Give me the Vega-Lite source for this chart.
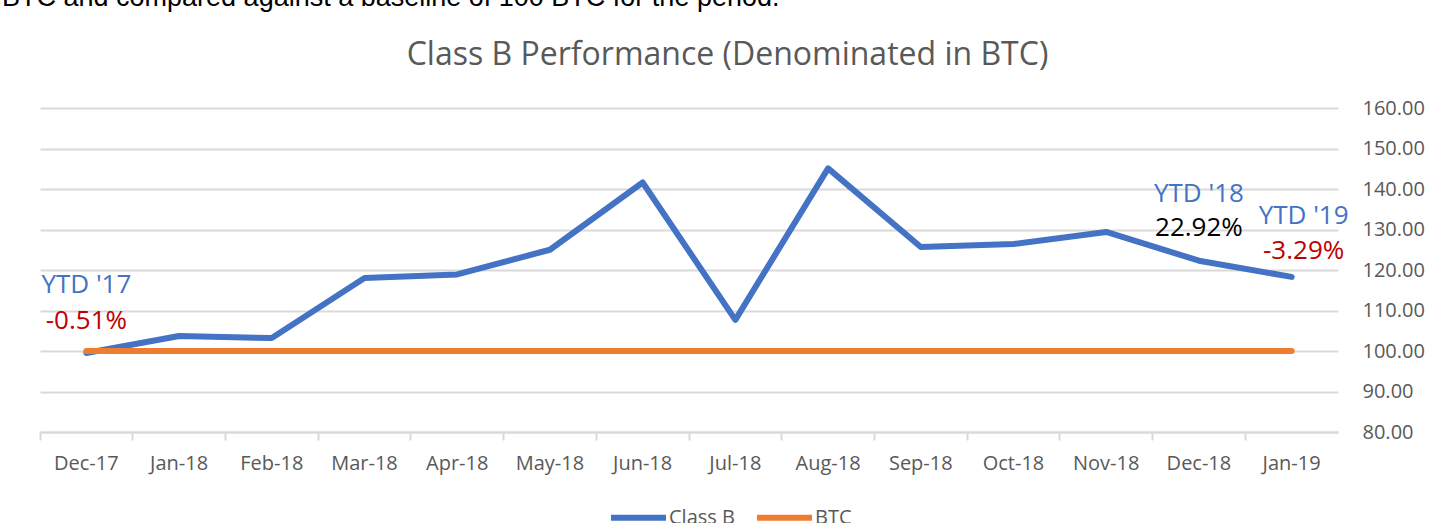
{
  "$schema": "https://vega.github.io/schema/vega-lite/v6.json",
  "width": 1298,
  "height": 324,
  "autosize": {"type": "none"},
  "padding": {"left": 40, "top": 108, "right": 98, "bottom": 91},
  "background": "white",
  "title": {
    "text": "BTC and compared against a baseline of 100 BTC for the period.",
    "font": "Liberation Sans",
    "fontSize": 27,
    "fontWeight": "normal",
    "color": "#000000",
    "anchor": "start",
    "frame": "group",
    "baseline": "alphabetic",
    "dx": -38,
    "dy": 21,
    "offset": 26
  },
  "datasets": {
    "perf": [
      {"month": "Dec-17", "series": "Class B", "value": 99.49},
      {"month": "Jan-18", "series": "Class B", "value": 103.7},
      {"month": "Feb-18", "series": "Class B", "value": 103.2},
      {"month": "Mar-18", "series": "Class B", "value": 118.0},
      {"month": "Apr-18", "series": "Class B", "value": 118.9},
      {"month": "May-18", "series": "Class B", "value": 125.0},
      {"month": "Jun-18", "series": "Class B", "value": 141.6},
      {"month": "Jul-18", "series": "Class B", "value": 107.7},
      {"month": "Aug-18", "series": "Class B", "value": 145.1},
      {"month": "Sep-18", "series": "Class B", "value": 125.7},
      {"month": "Oct-18", "series": "Class B", "value": 126.4},
      {"month": "Nov-18", "series": "Class B", "value": 129.4},
      {"month": "Dec-18", "series": "Class B", "value": 122.3},
      {"month": "Jan-19", "series": "Class B", "value": 118.3},
      {"month": "Dec-17", "series": "BTC", "value": 100},
      {"month": "Jan-18", "series": "BTC", "value": 100},
      {"month": "Feb-18", "series": "BTC", "value": 100},
      {"month": "Mar-18", "series": "BTC", "value": 100},
      {"month": "Apr-18", "series": "BTC", "value": 100},
      {"month": "May-18", "series": "BTC", "value": 100},
      {"month": "Jun-18", "series": "BTC", "value": 100},
      {"month": "Jul-18", "series": "BTC", "value": 100},
      {"month": "Aug-18", "series": "BTC", "value": 100},
      {"month": "Sep-18", "series": "BTC", "value": 100},
      {"month": "Oct-18", "series": "BTC", "value": 100},
      {"month": "Nov-18", "series": "BTC", "value": 100},
      {"month": "Dec-18", "series": "BTC", "value": 100},
      {"month": "Jan-19", "series": "BTC", "value": 100}
    ],
    "notes": [
      {"month": "Dec-17", "value": 116.3, "label": "YTD '17", "kind": "heading"},
      {"month": "Dec-17", "value": 107.4, "label": "-0.51%", "kind": "negative"},
      {"month": "Dec-18", "value": 138.8, "label": "YTD '18", "kind": "heading"},
      {"month": "Dec-18", "value": 130.4, "label": "22.92%", "kind": "positive"},
      {"month": "Jan-19", "value": 133.3, "label": "YTD '19", "kind": "heading"},
      {"month": "Jan-19", "value": 124.7, "label": "-3.29%", "kind": "negative"}
    ]
  },
  "layer": [
    {
      "data": {"name": "perf"},
      "mark": {"type": "point", "opacity": 0},
      "encoding": {
        "x": {
          "field": "month",
          "type": "ordinal",
          "scale": {"type": "band", "paddingInner": 0, "paddingOuter": 0, "domain": ["Dec-17","Jan-18","Feb-18","Mar-18","Apr-18","May-18","Jun-18","Jul-18","Aug-18","Sep-18","Oct-18","Nov-18","Dec-18","Jan-19"]},
          "axis": {
            "orient": "top",
            "labels": false,
            "ticks": false,
            "domain": false,
            "grid": false,
            "title": "Class B Performance (Denominated in BTC)",
            "titleFont": "Open Sans",
            "titleFontSize": 32,
            "titleFontWeight": "normal",
            "titleColor": "#595959",
            "titleAlign": "center",
            "titleBaseline": "alphabetic",
            "titleX": 687,
            "titleY": -44
          }
        },
        "y": {"field": "value", "type": "quantitative"}
      }
    },
    {
      "data": {"name": "perf"},
      "mark": {"type": "line", "strokeWidth": 6, "strokeCap": "round", "strokeJoin": "round"},
      "encoding": {
        "x": {
          "field": "month",
          "type": "ordinal",
          "bandPosition": 0.5,
          "axis": {
            "orient": "bottom",
            "title": null,
            "bandPosition": 0,
            "labelAngle": 0,
            "labelFont": "Open Sans",
            "labelFontSize": 20,
            "labelColor": "#595959",
            "labelPadding": 13,
            "domainColor": "#d9d9d9",
            "domainWidth": 2,
            "tickColor": "#d9d9d9",
            "tickWidth": 2,
            "tickSize": 8,
            "grid": false
          }
        },
        "y": {
          "field": "value",
          "type": "quantitative",
          "scale": {"domain": [80, 160], "nice": false, "zero": false},
          "axis": {
            "orient": "right",
            "title": null,
            "values": [80, 90, 100, 110, 120, 130, 140, 150, 160],
            "format": ".2f",
            "domain": false,
            "ticks": false,
            "labelAlign": "left",
            "labelPadding": 24,
            "labelFont": "Open Sans",
            "labelFontSize": 20,
            "labelColor": "#595959",
            "grid": true,
            "gridColor": "#d9d9d9",
            "gridWidth": 2
          }
        },
        "color": {
          "field": "series",
          "type": "nominal",
          "scale": {"domain": ["Class B", "BTC"], "range": ["#4472C4", "#ED7D31"]},
          "legend": {
            "title": null,
            "orient": "none",
            "direction": "horizontal",
            "legendX": 568,
            "legendY": 379,
            "symbolType": "stroke",
            "symbolStrokeWidth": 6,
            "symbolSize": 3025,
            "labelFont": "Open Sans",
            "labelFontSize": 20,
            "labelColor": "#595959",
            "labelOffset": 0,
            "columnPadding": 10
          }
        }
      }
    },
    {
      "data": {"name": "notes"},
      "transform": [{"filter": "datum.month !== 'Jan-19'"}],
      "mark": {"type": "text", "font": "Open Sans", "fontSize": 26, "align": "center", "baseline": "middle"},
      "encoding": {
        "x": {"field": "month", "type": "ordinal", "bandPosition": 0.5, "axis": null},
        "y": {"field": "value", "type": "quantitative"},
        "text": {"field": "label"},
        "color": {
          "field": "kind",
          "type": "nominal",
          "scale": {"domain": ["heading", "negative", "positive"], "range": ["#4472C4", "#C00000", "#000000"]},
          "legend": null
        }
      }
    },
    {
      "data": {"name": "notes"},
      "transform": [{"filter": "datum.month === 'Jan-19'"}],
      "mark": {"type": "text", "font": "Open Sans", "fontSize": 26, "align": "center", "baseline": "middle", "dx": 12},
      "encoding": {
        "x": {"field": "month", "type": "ordinal", "bandPosition": 0.5, "axis": null},
        "y": {"field": "value", "type": "quantitative"},
        "text": {"field": "label"},
        "color": {
          "field": "kind",
          "type": "nominal",
          "scale": {"domain": ["heading", "negative", "positive"], "range": ["#4472C4", "#C00000", "#000000"]},
          "legend": null
        }
      }
    }
  ],
  "resolve": {"axis": {"x": "independent"}, "scale": {"color": "independent"}},
  "config": {
    "view": {"stroke": null},
    "axis": {"labelFont": "Open Sans"}
  }
}
